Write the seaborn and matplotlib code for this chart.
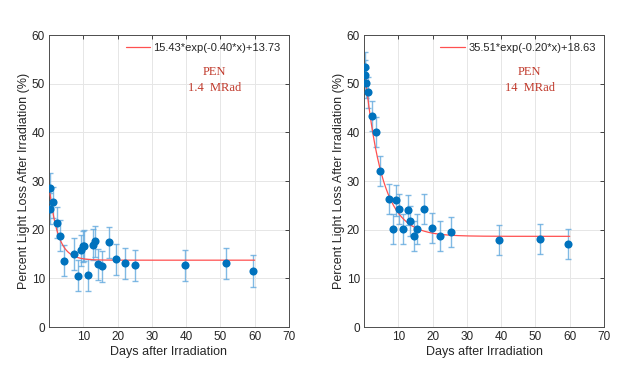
import matplotlib
matplotlib.use('Agg')
import matplotlib.pyplot as plt
import seaborn as sns
import pandas as pd
import numpy as np

# 1.4 MRad 样品
days_14 = [0.3, 0.4, 1.1, 2.2, 3.2, 4.5, 7.3, 8.5, 9.2, 10.0, 10.3, 11.3, 12.7, 13.5,
           14.4, 15.4, 17.4, 19.6, 22.2, 25.1, 39.6, 51.5, 59.5]
loss_14 = [28.5, 24.3, 25.6, 21.4, 18.8, 13.6, 15.0, 10.5, 15.8, 16.6, 16.7, 10.7, 16.9, 17.6,
           12.9, 12.5, 17.4, 13.9, 13.1, 12.7, 12.7, 13.1, 11.5]
err_14 = [3.2] * len(days_14)
fit_14 = (15.43, 0.40, 13.73)

# 14 MRad 样品
days_140 = [0.3, 0.3, 0.7, 1.1, 2.2, 3.4, 4.6, 7.3, 8.5, 9.3, 10.3, 11.3, 12.8, 13.5,
            14.6, 15.4, 17.5, 19.7, 22.3, 25.3, 39.4, 51.3, 59.5]
loss_140 = [53.4, 51.7, 50.1, 48.2, 43.4, 40.1, 32.0, 26.3, 20.2, 26.0, 24.3, 20.2, 24.1, 21.7,
            18.7, 20.2, 24.3, 20.4, 18.7, 19.5, 17.8, 18.1, 17.0]
err_140 = [3.1] * len(days_140)
fit_140 = (35.51, 0.20, 18.63)

labels = ['1.4  MRad', '14  MRad']

sns.set_style('whitegrid')
plt.rcParams['font.family'] = ['Liberation Sans', 'DejaVu Sans']

fig = plt.figure(figsize=(6.23, 3.77), dpi=100)
ax1 = fig.add_axes([49 / 623, 1 - 327 / 377, 240 / 623, 292 / 377])
ax2 = fig.add_axes([364 / 623, 1 - 327 / 377, 240 / 623, 292 / 377])

for ax, days, loss, err, fit, lab in [(ax1, days_14, loss_14, err_14, fit_14, labels[0]),
                                      (ax2, days_140, loss_140, err_140, fit_140, labels[1])]:
    df = pd.DataFrame({'days': days, 'loss': loss, 'err': err})
    a, b, c = fit
    xf = np.linspace(min(days), 60, 300)
    fit_df = pd.DataFrame({'x': xf, 'y': a * np.exp(-b * xf) + c})

    ax.errorbar(df['days'], df['loss'], yerr=df['err'], fmt='none', ecolor='#62a9de',
                elinewidth=1.0, capsize=2, capthick=1.0, alpha=0.8, zorder=2)
    sns.lineplot(data=fit_df, x='x', y='y', ax=ax, color='#ff5050', lw=0.9, zorder=3,
                 label=f'{a:.2f}*exp(-{b:.2f}*x)+{c:.2f}')
    sns.scatterplot(data=df, x='days', y='loss', ax=ax, color='#0072bd', s=34,
                    edgecolor='#0072bd', linewidth=0, zorder=4)

    ax.set_xlim(0, 70)
    ax.set_ylim(0, 60)
    ax.set_xticks(range(10, 71, 10))
    ax.set_yticks(range(0, 61, 10))
    ax.grid(True, color='#e6e6e6', lw=0.7)
    for s in ax.spines.values():
        s.set_visible(True)
        s.set_color('#4d4d4d')
        s.set_linewidth(0.7)
    ax.tick_params(direction='in', length=3, width=0.6, colors='#262626', labelsize=8.5,
                   top=True, right=True, pad=3)
    ax.set_xlabel('Days after Irradiation', fontsize=9, color='#262626', labelpad=2)
    ax.set_ylabel('Percent Light Loss After Irradiation (%)', fontsize=9, color='#262626', labelpad=1)

    leg = ax.legend(loc='upper right', frameon=False, fontsize=8, handlelength=2.2,
                    handletextpad=0.3, borderaxespad=0.35)
    ax.text(0.69, 0.846, 'PEN\n' + lab, transform=ax.transAxes, ha='center', va='center',
            family=['Liberation Serif'], fontsize=9, color='#c0392b', linespacing=1.35)

fig.savefig('out.png', dpi=100)
